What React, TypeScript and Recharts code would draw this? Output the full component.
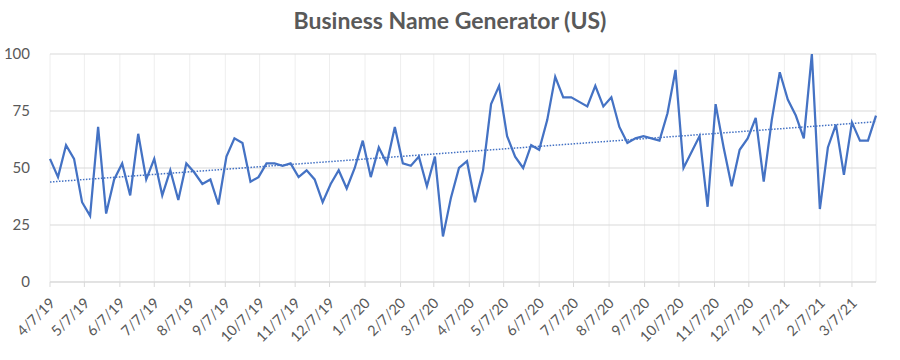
import { CartesianGrid, Line, LineChart, XAxis, YAxis } from 'recharts'

// weekly values, first week starts 4/7/19
const weekValues = [
  54, 46, 60, 54, 35, 29, 68, 30, 45, 52,
  38, 65, 45, 54, 38, 49, 36, 52, 48, 43,
  45, 34, 55, 63, 61, 44, 46, 52, 52, 51,
  52, 46, 49, 45, 35, 43, 49, 41, 50, 62,
  46, 59, 52, 68, 52, 51, 55, 42, 55, 20,
  37, 50, 53, 35, 49, 78, 86, 64, 55, 50,
  60, 58, 71, 90, 81, 81, 79, 77, 86, 77,
  81, 68, 61, 63, 64, 63, 62, 74, 93, 50,
  57, 64, 33, 78, 59, 42, 58, 63, 72, 44,
  71, 92, 80, 73, 63, 100, 32, 59, 69, 47,
  70, 62, 62, 73,
]

const tickLabels = [
  '4/7/19', '5/7/19', '6/7/19', '7/7/19', '8/7/19', '9/7/19', '10/7/19', '11/7/19',
  '12/7/19', '1/7/20', '2/7/20', '3/7/20', '4/7/20', '5/7/20', '6/7/20', '7/7/20',
  '8/7/20', '9/7/20', '10/7/20', '11/7/20', '12/7/20', '1/7/21', '2/7/21', '3/7/21',
]

const yTicks = [0, 25, 50, 75, 100]

const DAY = 86400000
const start = Date.UTC(2019, 3, 7)

function toDay(label: string) {
  const [m, d, y] = label.split('/').map(Number)
  return Math.round((Date.UTC(2000 + y, m - 1, d) - start) / DAY)
}

const tickDays = tickLabels.map(toDay)
const labelByDay: Record<number, string> = {}
tickLabels.forEach((l, i) => (labelByDay[tickDays[i]] = l))

// linear trendline (least squares), like Excel's
const xs = weekValues.map((_, i) => i * 7)
const n = xs.length
const mx = xs.reduce((a, b) => a + b, 0) / n
const my = weekValues.reduce((a, b) => a + b, 0) / n
let sxy = 0
let sxx = 0
xs.forEach((x, i) => {
  sxy += (x - mx) * (weekValues[i] - my)
  sxx += (x - mx) * (x - mx)
})
const slope = sxy / sxx
const intercept = my - slope * mx

const chartData = weekValues.map((v, i) => ({
  day: xs[i],
  value: v,
  trend: intercept + slope * xs[i],
}))

const textColor = '#595959'
const font = 'Lato, "Open Sans", sans-serif'

function DateTick(props: any) {
  const { x, y, payload } = props
  const ax = x + 6
  const ay = y + 15
  return (
    <text
      x={ax}
      y={ay}
      transform={`rotate(-45 ${ax} ${ay})`}
      textAnchor="end"
      fill={textColor}
      fontSize={14.5}
      fontFamily={font}
    >
      {labelByDay[payload.value] ?? ''}
    </text>
  )
}

export default function App() {
  return (
    <div
      style={{
        position: 'absolute',
        left: 0,
        top: 0,
        width: 900,
        height: 360,
        background: '#fff',
        fontFamily: font,
      }}
    >
      <div
        style={{
          position: 'absolute',
          top: 6,
          left: 0,
          width: 900,
          textAlign: 'center',
          fontSize: 23,
          fontWeight: 700,
          color: textColor,
        }}
      >
        Business Name Generator (US)
      </div>
      <LineChart
        width={900}
        height={360}
        data={chartData}
        margin={{ top: 54, right: 24, left: 0, bottom: 0 }}
      >
        <CartesianGrid vertical horizontal={false} stroke="#eeeeee" />
        <CartesianGrid vertical={false} stroke="#d9d9d9" />
        <XAxis
          type="number"
          dataKey="day"
          domain={[0, 721]}
          ticks={tickDays}
          interval={0}
          height={78}
          stroke="#d9d9d9"
          tickSize={5}
          tickMargin={2}
          tick={<DateTick />}
        />
        <YAxis
          domain={[0, 100]}
          ticks={yTicks}
          width={50}
          axisLine={false}
          tickLine={false}
          tickMargin={14}
          tick={{ fill: textColor, fontSize: 15, fontFamily: font }}
        />
        <Line
          type="linear"
          dataKey="trend"
          stroke="#4472C4"
          strokeWidth={1.5}
          strokeDasharray="1.5 1.5"
          dot={false}
          activeDot={false}
          isAnimationActive={false}
        />
        <Line
          type="linear"
          dataKey="value"
          stroke="#4472C4"
          strokeWidth={2.25}
          dot={false}
          activeDot={false}
          isAnimationActive={false}
        />
      </LineChart>
    </div>
  )
}
